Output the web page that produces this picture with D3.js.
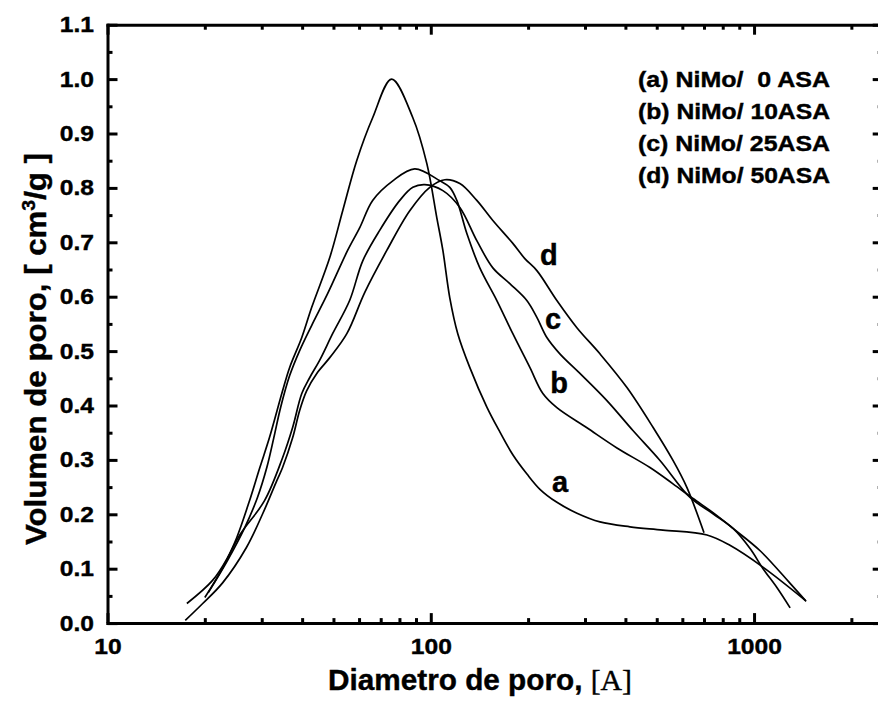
<!DOCTYPE html>
<html>
<head>
<meta charset="utf-8">
<script src="https://cdn.jsdelivr.net/npm/d3@7"></script>
<style>
  html, body { margin: 0; padding: 0; background: #fff; }
  svg { display: block; }
  text { font-family: "Liberation Sans", Arial, sans-serif; font-weight: bold; fill: #000; stroke: #000; stroke-width: 0.4px; }
</style>
</head>
<body>
<svg id="chart" width="878" height="704"></svg>
<script>
// ---------------- data (diameter [A], pore volume [cm3/g]) ----------------
const seriesA = [[17.6,0.036],[21.1,0.078],[23.5,0.120],[25.1,0.157],[27.5,0.225],[29.6,0.286],[31.7,0.341],[34.8,0.427],[36.6,0.470],[39.9,0.525],[42.8,0.580],[48.7,0.672],[53.4,0.758],[59.0,0.850],[66.1,0.929],[75.7,1.0],[88.0,0.929],[97.2,0.845],[104.4,0.745],[109.0,0.685],[114.5,0.598],[121.2,0.532],[132.0,0.470],[149.1,0.397],[163.7,0.351],[179.6,0.309],[198.4,0.274],[217.6,0.246],[245.6,0.222],[283.3,0.202],[333.7,0.186],[413.1,0.177],[522.6,0.171],[715.1,0.162],[842,0.143],[1065,0.103],[1440,0.042]];
const seriesB = [[20.5,0.056],[23.5,0.115],[26.6,0.176],[29.1,0.231],[31.1,0.286],[32.7,0.341],[34.3,0.396],[36.6,0.455],[39.3,0.501],[42.8,0.547],[48.0,0.606],[55.3,0.685],[60.3,0.727],[66.1,0.777],[76.3,0.813],[89.2,0.835],[106.7,0.813],[114.5,0.801],[120.4,0.777],[129.3,0.716],[141.8,0.653],[160.1,0.593],[179.4,0.532],[202.5,0.470],[222.2,0.422],[245.5,0.396],[304.1,0.359],[376.6,0.322],[476.4,0.286],[561.4,0.256],[647.4,0.229],[746.6,0.203],[861,0.174],[1044,0.133],[1293,0.073],[1449,0.040]];
const seriesC = [[20.0,0.047],[22.5,0.097],[25.6,0.161],[30.6,0.225],[34.8,0.304],[37.4,0.360],[39.9,0.422],[42.2,0.451],[45.3,0.483],[49.7,0.532],[56.1,0.593],[61.6,0.666],[69.5,0.722],[80.2,0.777],[88.0,0.801],[95.8,0.806],[109.0,0.795],[123.0,0.764],[138.8,0.703],[155.6,0.653],[175.6,0.624],[198.2,0.593],[212.9,0.562],[228.6,0.525],[250.8,0.495],[289.3,0.459],[350.6,0.409],[422.0,0.354],[511.7,0.299],[633.8,0.231],[746.6,0.201],[861,0.174],[972,0.137],[1066,0.100],[1178,0.065],[1293,0.028]];
const seriesD = [[17.4,0.005],[19.7,0.036],[22.7,0.074],[26.9,0.139],[30.2,0.201],[33.4,0.262],[34.8,0.286],[37.4,0.341],[39.3,0.391],[41.3,0.427],[44.4,0.459],[48.7,0.488],[55.0,0.532],[62.5,0.608],[73.1,0.685],[86.1,0.758],[99.3,0.801],[110.5,0.815],[123.0,0.808],[138.8,0.777],[155.6,0.740],[179.4,0.698],[195.4,0.670],[212.9,0.648],[245.5,0.593],[283.1,0.543],[333.6,0.495],[404.4,0.433],[486.8,0.360],[561.4,0.299],[620.1,0.249],[700.1,0.166]];

const curveLabels = ["a", "b", "c", "d"];
const curveLabelAnchors = [[237, 0.241], [234, 0.423], [225.5, 0.540], [217.6, 0.658]]; // data coords (label left, baseline)
const legendLabels = ["(a) NiMo/  0 ASA", "(b) NiMo/ 10ASA", "(c) NiMo/ 25ASA", "(d) NiMo/ 50ASA"];

const xMajorTicks = [10, 100, 1000];
const xMinorTicks = [20,30,40,50,60,70,80,90,200,300,400,500,600,700,800,900,2000];
const yMajorTicks = [0,0.1,0.2,0.3,0.4,0.5,0.6,0.7,0.8,0.9,1.0,1.1];
const yMinorTicks = [0.05,0.15,0.25,0.35,0.45,0.55,0.65,0.75,0.85,0.95,1.05];

// ---------------- chart ----------------
const svg = d3.select("#chart");
const W = 878, H = 704;
svg.append("rect").attr("width", W).attr("height", H).attr("fill", "#fff");

const pLeft = 107.5, pRight = 882.7, pTop = 24.7, pBottom = 623.1;
const x = d3.scaleLog().domain([10, 2500]).range([pLeft, pRight]);
const y = d3.scaleLinear().domain([0, 1.1]).range([pBottom, pTop]);
const stretch = 1.12;

function styleAxis(g, withText) {
  g.selectAll(".domain").attr("stroke", "#000").attr("stroke-width", 3).attr("stroke-linecap", "square");
  g.selectAll(".tick line").attr("stroke", "#000").attr("stroke-width", 3);
  if (withText) {
    g.selectAll(".tick text").attr("fill", "#000")
      .style("font-family", '"Liberation Sans", Arial, sans-serif')
      .style("font-weight", "bold").style("font-size", "22px")
      .attr("transform", `scale(${stretch},1)`);
  }
}

// bottom
const gb = svg.append("g").attr("transform", `translate(0,${pBottom})`);
gb.append("g").call(d3.axisBottom(x).tickValues(xMinorTicks).tickSize(-5).tickSizeOuter(0).tickFormat(""))
  .call(g => styleAxis(g, false));
gb.append("g").call(d3.axisBottom(x).tickValues(xMajorTicks).tickSize(-10).tickSizeOuter(0).tickPadding(15).tickFormat(d3.format("d")))
  .call(g => styleAxis(g, true)).call(g => g.select(".domain").remove());
// top
const gt = svg.append("g").attr("transform", `translate(0,${pTop})`);
gt.append("g").call(d3.axisTop(x).tickValues(xMinorTicks).tickSize(-5).tickSizeOuter(0).tickFormat(""))
  .call(g => styleAxis(g, false));
gt.append("g").call(d3.axisTop(x).tickValues(xMajorTicks).tickSize(-10).tickSizeOuter(0).tickFormat(""))
  .call(g => styleAxis(g, false)).call(g => g.select(".domain").remove());
// left
const gl = svg.append("g").attr("transform", `translate(${pLeft},0)`);
gl.append("g").call(d3.axisLeft(y).tickValues(yMinorTicks).tickSize(-5).tickSizeOuter(0).tickFormat(""))
  .call(g => styleAxis(g, false));
gl.append("g").call(d3.axisLeft(y).tickValues(yMajorTicks).tickSize(-10).tickSizeOuter(0).tickPadding(13).tickFormat(d3.format(".1f")))
  .call(g => styleAxis(g, true)).call(g => g.select(".domain").remove())
  .call(g => g.selectAll(".tick text").attr("x", -13.5 / stretch));
// right
const gr = svg.append("g").attr("transform", `translate(${pRight},0)`);
gr.append("g").call(d3.axisRight(y).tickValues(yMinorTicks).tickSize(-5).tickSizeOuter(0).tickFormat(""))
  .call(g => styleAxis(g, false));
gr.append("g").call(d3.axisRight(y).tickValues(yMajorTicks).tickSize(-10).tickSizeOuter(0).tickFormat(""))
  .call(g => styleAxis(g, false)).call(g => g.select(".domain").remove());

// curves
const line = d3.line().x(d => x(d[0])).y(d => y(d[1])).curve(d3.curveCatmullRom.alpha(0.5));
[seriesA, seriesB, seriesC, seriesD].forEach(s => {
  svg.append("path").datum(s).attr("d", line)
    .attr("fill", "none").attr("stroke", "#000").attr("stroke-width", 1.7);
});

// curve labels
svg.selectAll("text.clabel").data(curveLabels).enter().append("text")
  .attr("class", "clabel")
  .attr("x", (d, i) => x(curveLabelAnchors[i][0]))
  .attr("y", (d, i) => y(curveLabelAnchors[i][1]))
  .style("font-size", "29px")
  .text(d => d);

// legend
svg.selectAll("text.leg").data(legendLabels).enter().append("text")
  .attr("class", "leg")
  .attr("x", 638).attr("y", (d, i) => 87 + i * 32)
  .attr("textLength", 192).attr("lengthAdjust", "spacingAndGlyphs")
  .style("font-size", "22px").style("white-space", "pre")
  .text(d => d);

// x title
const xt = svg.append("text").attr("x", 328).attr("y", 690)
  .attr("textLength", 304).attr("lengthAdjust", "spacingAndGlyphs").style("font-size", "29px");
xt.append("tspan").text("Diametro de poro, ");
xt.append("tspan").style("font-family", '"Liberation Serif", "Times New Roman", serif').style("font-weight", "normal").text("[A]");

// y title
const yt = svg.append("text").attr("transform", "translate(46,545) rotate(-90)")
  .attr("textLength", 392).attr("lengthAdjust", "spacingAndGlyphs").style("font-size", "29px");
yt.append("tspan").text("Volumen de poro, [ cm");
yt.append("tspan").attr("dy", -11).style("font-size", "18px").text("3");
yt.append("tspan").attr("dy", 11).text("/g ]");
</script>
</body>
</html>
